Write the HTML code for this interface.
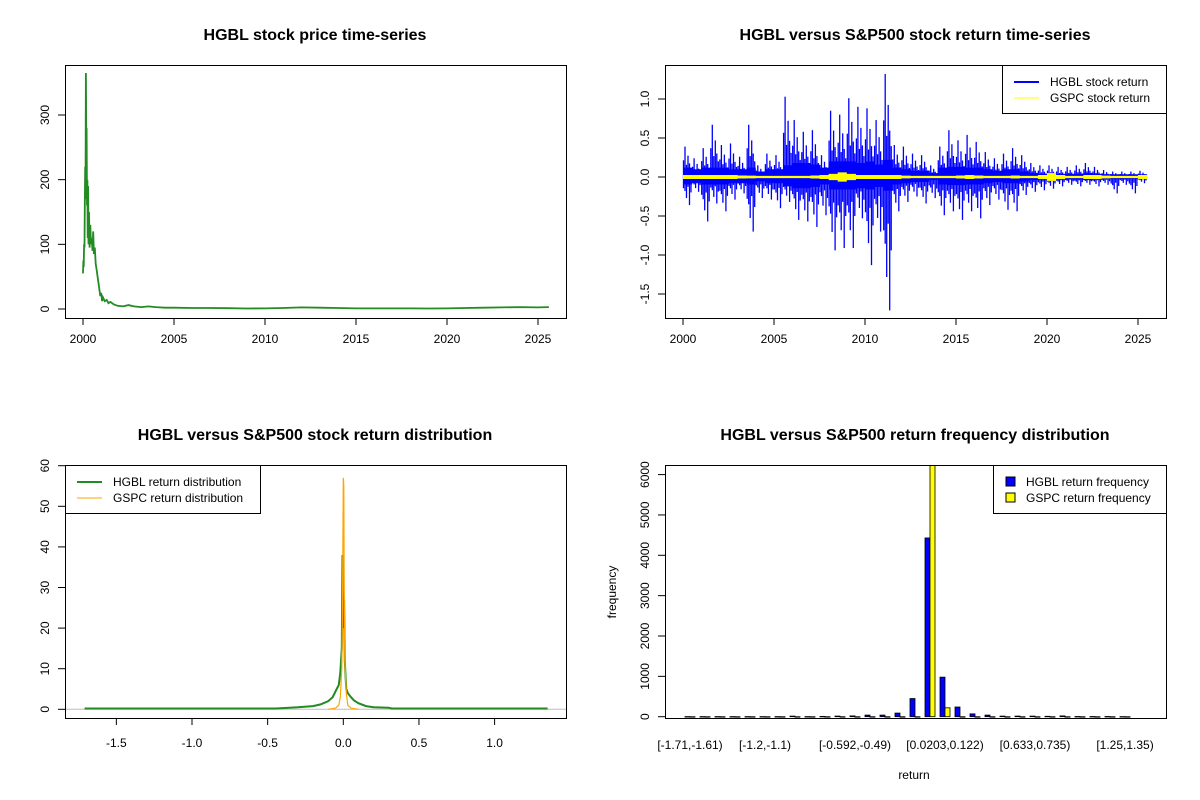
<!DOCTYPE html>
<html><head><meta charset="utf-8">
<style>
body{margin:0;background:#fff;}
svg{display:block;font-family:"Liberation Sans",Arial,sans-serif;}
.t{font-size:12px;fill:#000}
.ti{font-size:16px;font-weight:bold;fill:#000}
</style></head>
<body>
<svg id="c" width="1200" height="800" xmlns="http://www.w3.org/2000/svg">
<rect width="1200" height="800" fill="#fff"/>
</svg>
<script>
// ---- Panel 1: price ----
const priceYears=[2000.00,2000.02,2000.04,2000.06,2000.08,2000.10,2000.12,2000.14,2000.16,2000.18,2000.20,2000.22,2000.24,2000.26,2000.28,2000.30,2000.33,2000.36,2000.40,2000.44,2000.48,2000.52,2000.56,2000.60,2000.65,2000.70,2000.75,2000.80,2000.85,2000.90,2000.95,2001.0,2001.05,2001.1,2001.2,2001.3,2001.4,2001.5,2001.7,2001.9,2002.2,2002.5,2002.8,2003.2,2003.6,2004,2004.5,2005,2006,2007,2008,2009,2010,2011,2012,2013,2014,2015,2016,2017,2018,2019,2020,2021,2022,2023,2024,2025,2025.6];
const priceVals=[55,75,65,100,95,160,220,170,365,250,280,160,200,110,190,100,150,95,130,100,110,90,120,85,95,70,60,50,40,30,20,25,12,18,12,14,9,11,7,5,4,6,4,3,4,3,2,2,1.5,1.5,1.2,0.8,1,1.5,2.5,2,1.5,1,1,1,1,0.8,1,1.5,2,2.5,3,2.5,3];
const yearTicks=[2000,2005,2010,2015,2020,2025];
const priceTicks=[0,100,200,300];
// ---- Panel 2: returns (half-year envelopes) ----
const retYears=[2000,2000.5,2001,2001.5,2002,2002.5,2003,2003.5,2004,2004.5,2005,2005.5,2006,2006.5,2007,2007.5,2008,2008.5,2009,2009.5,2010,2010.5,2011,2011.5,2012,2012.5,2013,2013.5,2014,2014.5,2015,2015.5,2016,2016.5,2017,2017.5,2018,2018.5,2019,2019.5,2020,2020.5,2021,2021.5,2022,2022.5,2023,2023.5,2024,2024.5,2025];
const hgblMax=[0.39,0.24,0.37,0.67,0.41,0.43,0.26,0.67,0.15,0.30,0.28,1.03,0.73,0.58,0.60,0.28,0.85,0.80,1.01,0.90,0.88,0.73,1.32,0.41,0.39,0.30,0.28,0.15,0.39,0.60,0.47,0.54,0.45,0.32,0.24,0.30,0.37,0.28,0.18,0.15,0.15,0.13,0.13,0.15,0.18,0.13,0.09,0.07,0.07,0.07,0.08];
const hgblMin=[-0.36,-0.19,-0.57,-0.34,-0.44,-0.29,-0.21,-0.70,-0.27,-0.29,-0.40,-0.32,-0.55,-0.57,-0.64,-0.49,-0.94,-0.91,-0.91,-0.53,-1.13,-0.70,-1.71,-0.44,-0.32,-0.25,-0.34,-0.27,-0.49,-0.44,-0.55,-0.44,-0.53,-0.36,-0.29,-0.42,-0.44,-0.23,-0.19,-0.17,-0.15,-0.12,-0.10,-0.12,-0.10,-0.12,-0.10,-0.21,-0.10,-0.21,-0.08];
const hgblCore=[0.12,0.1,0.12,0.12,0.12,0.1,0.1,0.12,0.07,0.1,0.1,0.15,0.18,0.18,0.16,0.12,0.2,0.2,0.2,0.18,0.2,0.16,0.22,0.12,0.1,0.08,0.08,0.05,0.12,0.13,0.13,0.12,0.12,0.1,0.08,0.1,0.1,0.07,0.05,0.04,0.05,0.04,0.04,0.04,0.05,0.04,0.035,0.035,0.035,0.035,0.035];
const gspcBand=[0.025,0.025,0.025,0.025,0.025,0.025,0.02,0.018,0.015,0.015,0.015,0.015,0.015,0.015,0.02,0.025,0.04,0.06,0.04,0.025,0.025,0.025,0.025,0.025,0.018,0.015,0.015,0.015,0.015,0.015,0.02,0.025,0.02,0.015,0.015,0.015,0.02,0.015,0.015,0.025,0.05,0.025,0.015,0.015,0.025,0.025,0.018,0.015,0.015,0.015,0.025];
const retTicks=[-1.5,-1.0,-0.5,0.0,0.5,1.0];
// ---- Panel 3: densities ----
const hgblDx=[-1.71,-0.45,-0.4,-0.3,-0.2,-0.15,-0.1,-0.07,-0.05,-0.03,-0.02,-0.01,-0.005,0,0.005,0.01,0.015,0.02,0.03,0.05,0.07,0.1,0.15,0.2,0.3,0.32,1.35];
const hgblDy=[0.2,0.2,0.3,0.5,0.8,1.2,2,3,4.5,6,9,15,38,20,27,12,8,5,4,3,2.2,1.5,0.8,0.5,0.4,0.2,0.2];
const gspcDx=[-0.1,-0.05,-0.03,-0.02,-0.01,-0.005,0,0.003,0.006,0.01,0.02,0.03,0.05,0.1];
const gspcDy=[0,0.3,1,3,10,25,57,55,30,12,4,1,0.3,0];
const densXTicks=[-1.5,-1.0,-0.5,0.0,0.5,1.0];
const densYTicks=[0,10,20,30,40,50,60];
// ---- Panel 4: histogram ----
const binLabels=["[-1.71,-1.61)","[-1.2,-1.1)","[-0.592,-0.49)","[0.0203,0.122)","[0.633,0.735)","[1.25,1.35)"];
const binLabelIdx=[0,5,11,17,23,29];
const hgblFreq=[3,3,3,3,3,3,3,15,3,8,15,20,40,40,90,450,4430,980,240,70,40,15,15,15,10,20,5,5,5,3];
const gspcFreq=[0,0,0,0,0,0,0,0,0,0,0,0,0,0,0,0,6300,220,0,0,0,0,0,0,0,0,0,0,0,0];
const freqTicks=[0,1000,2000,3000,4000,5000,6000];

const NS="http://www.w3.org/2000/svg";
const svg=document.getElementById('c');
function mk(tag,attrs,parent){const e=document.createElementNS(NS,tag);for(const k in attrs)e.setAttribute(k,attrs[k]);(parent||svg).appendChild(e);return e;}
function txt(s,x,y,cls,anchor,rot,parent){const e=mk('text',{x:x,y:y,class:cls,'text-anchor':anchor||'middle'},parent);if(rot)e.setAttribute('transform','rotate(-90 '+x+' '+y+')');e.textContent=s;return e;}
function grp(name){const g=mk('g',{});return g;}

// ===== Panel 1 =====
(function(){
 const g=grp('price-panel');
 const X=v=>83+(v-2000)*18.2, Y=v=>309-v*0.6467;
 const t=txt('HGBL stock price time-series',315,40,'ti','middle',0,g);
 
 let d='';priceYears.forEach((yr,i)=>{d+=(i?'L':'M')+X(yr).toFixed(1)+','+Y(priceVals[i]).toFixed(1);});
 const p=mk('path',{d:d,fill:'none',stroke:'#228B22','stroke-width':1.8},g);
 
 const b=mk('rect',{x:65.5,y:65.5,width:501,height:253,fill:'none',stroke:'#000'},g);
 
 yearTicks.forEach(v=>{mk('line',{x1:X(v),x2:X(v),y1:318,y2:325,stroke:'#000'},g);const l=txt(v,X(v),343,'t','middle',0,g);});
 priceTicks.forEach(v=>{mk('line',{x1:58,x2:65,y1:Y(v),y2:Y(v),stroke:'#000'},g);const l=txt(v,49,Y(v),'t','middle',1,g);});
})();

// ===== Panel 2 =====
(function(){
 const g=grp('return-timeseries-panel');
 const X=v=>683+(v-2000)*18.2, Y=v=>177-v*78;
 const t=txt('HGBL versus S&P500 stock return time-series',915,40,'ti','middle',0,g);
 
 const bw=9.1;
 let up='',dn='';
 retYears.forEach((yr,i)=>{const x0=X(yr),x1=Math.min(X(yr)+bw,1148);up+=(i?'L':'M')+x0+','+Y(hgblCore[i])+'L'+x1+','+Y(hgblCore[i]);});
 for(let i=retYears.length-1;i>=0;i--){const x0=X(retYears[i]),x1=Math.min(X(retYears[i])+bw,1148);dn+='L'+x1+','+Y(-hgblCore[i]*0.8)+'L'+x0+','+Y(-hgblCore[i]*0.8);}
 const core=mk('path',{d:up+dn+'Z',fill:'#0000ff'},g);
 
 const offs=[0.5,2,3.5,5,6.5,8];
 const fu=[0.55,1,0.4,0.7,0.45,0.3];
 const fd=[0.4,0.5,0.75,0.35,1,0.55];
 retYears.forEach((yr,i)=>{
  const x0=X(yr);
  offs.forEach((o,k)=>{
   if(x0+o>1148)return;
   const s=mk('line',{x1:x0+o,x2:x0+o,y1:Y(hgblMin[i]*fd[k]),y2:Y(hgblMax[i]*fu[k]),stroke:'#0000ff','stroke-width':1.3},g);
   
   
  });
 });
 let gu='',gd='';
 retYears.forEach((yr,i)=>{const x0=X(yr),x1=Math.min(X(yr)+bw,1148);gu+=(i?'L':'M')+x0+','+Y(gspcBand[i])+'L'+x1+','+Y(gspcBand[i]);});
 for(let i=retYears.length-1;i>=0;i--){const x0=X(retYears[i]),x1=Math.min(X(retYears[i])+bw,1148);gd+='L'+x1+','+Y(-gspcBand[i])+'L'+x0+','+Y(-gspcBand[i]);}
 const gs=mk('path',{d:gu+gd+'Z',fill:'#ffff00'},g);
 
 const b=mk('rect',{x:665.5,y:65.5,width:501,height:253,fill:'none',stroke:'#000'},g);
 
 yearTicks.forEach(v=>{mk('line',{x1:X(v),x2:X(v),y1:318,y2:325,stroke:'#000'},g);const l=txt(v,X(v),343,'t','middle',0,g);});
 retTicks.forEach(v=>{mk('line',{x1:658,x2:665,y1:Y(v),y2:Y(v),stroke:'#000'},g);const l=txt(v.toFixed(1),649,Y(v),'t','middle',1,g);});
 const lg=mk('g',{},g);
 mk('rect',{x:1002.5,y:65.5,width:164,height:48,fill:'#fff',stroke:'#000'},lg);
 mk('line',{x1:1014,x2:1039,y1:82,y2:82,stroke:'#0000ff','stroke-width':2},lg);
 mk('line',{x1:1014,x2:1039,y1:98,y2:98,stroke:'#ffff00','stroke-width':1},lg);
 txt('HGBL stock return',1050,86,'t','start',0,lg);
 txt('GSPC stock return',1050,102,'t','start',0,lg);
})();

// ===== Panel 3 =====
(function(){
 const g=grp('return-density-panel');
 const X=v=>343.3+v*151.3, Y=v=>709.3-v*4.06;
 const t=txt('HGBL versus S&P500 stock return distribution',315,440,'ti','middle',0,g);
 
 const z=mk('line',{x1:65,x2:566,y1:709.3,y2:709.3,stroke:'#bebebe'},g);
 
 let d='';hgblDx.forEach((x,i)=>{d+=(i?'L':'M')+X(x).toFixed(1)+','+Y(hgblDy[i]).toFixed(1);});
 const p=mk('path',{d:d,fill:'none',stroke:'#228B22','stroke-width':2},g);
 
 let d2='';gspcDx.forEach((x,i)=>{d2+=(i?'L':'M')+X(x).toFixed(1)+','+Y(gspcDy[i]).toFixed(1);});
 const p2=mk('path',{d:d2,fill:'none',stroke:'#ffa500','stroke-width':1.2},g);
 
 const b=mk('rect',{x:65.5,y:465.5,width:501,height:253,fill:'none',stroke:'#000'},g);
 
 densXTicks.forEach(v=>{mk('line',{x1:X(v),x2:X(v),y1:718,y2:725,stroke:'#000'},g);const l=txt(v.toFixed(1),X(v),747,'t','middle',0,g);});
 densYTicks.forEach(v=>{mk('line',{x1:58,x2:65,y1:Y(v),y2:Y(v),stroke:'#000'},g);const l=txt(v,49,Y(v),'t','middle',1,g);});
 const lg=mk('g',{},g);
 mk('rect',{x:65.5,y:465.5,width:195,height:48,fill:'#fff',stroke:'#000'},lg);
 mk('line',{x1:77,x2:102,y1:482,y2:482,stroke:'#228B22','stroke-width':2},lg);
 mk('line',{x1:77,x2:102,y1:498,y2:498,stroke:'#ffa500','stroke-width':1},lg);
 txt('HGBL return distribution',113,486,'t','start',0,lg);
 txt('GSPC return distribution',113,502,'t','start',0,lg);
})();

// ===== Panel 4 =====
(function(){
 const g=grp('return-frequency-panel');
 const Y=v=>716.7-v*0.04035, GX=i=>690+i*15;
 const t=txt('HGBL versus S&P500 return frequency distribution',915,440,'ti','middle',0,g);
 
 const cp=mk('clipPath',{id:'cp4'},g);mk('rect',{x:665,y:465,width:501,height:253},cp);
 const bars=mk('g',{'clip-path':'url(#cp4)'},g);
 hgblFreq.forEach((v,i)=>{
  const r=mk('rect',{x:GX(i)-5,y:Y(v),width:5,height:Math.max(716.7-Y(v),0.5),fill:'#0000ff',stroke:'#000','stroke-width':0.8},bars);
  
 });
 gspcFreq.forEach((v,i)=>{
  const r=mk('rect',{x:GX(i),y:Y(v),width:5,height:Math.max(716.7-Y(v),0.5),fill:'#ffff00',stroke:'#000','stroke-width':0.8},bars);
  
 });
 const b=mk('rect',{x:665.5,y:465.5,width:501,height:253,fill:'none',stroke:'#000'},g);
 
 binLabels.forEach((s,k)=>{const l=txt(s,GX(binLabelIdx[k]),749,'t','middle',0,g);});
 freqTicks.forEach(v=>{mk('line',{x1:658,x2:665,y1:Y(v),y2:Y(v),stroke:'#000'},g);const l=txt(v,649,Y(v),'t','middle',1,g);});
 const xl=txt('return',914,779,'t','middle',0,g);
 const yl=txt('frequency',616,592,'t','middle',1,g);
 const lg=mk('g',{},g);
 mk('rect',{x:993.5,y:465.5,width:173,height:48,fill:'#fff',stroke:'#000'},lg);
 mk('rect',{x:1006,y:477,width:9,height:9,fill:'#0000ff',stroke:'#000'},lg);
 mk('rect',{x:1006,y:493,width:9,height:9,fill:'#ffff00',stroke:'#000'},lg);
 txt('HGBL return frequency',1026,486,'t','start',0,lg);
 txt('GSPC return frequency',1026,502,'t','start',0,lg);
})();
</script>
</body></html>
